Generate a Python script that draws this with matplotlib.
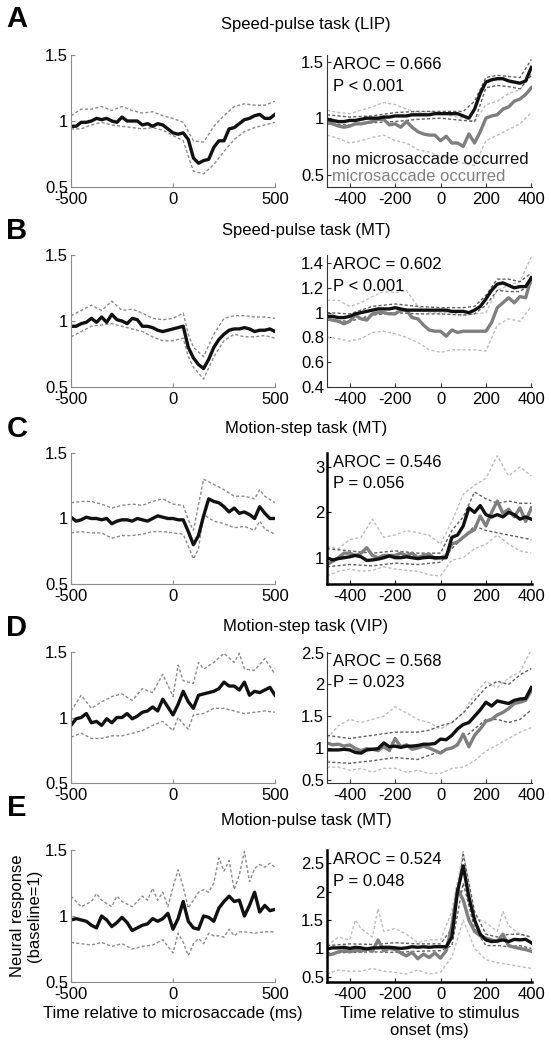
"""Microsaccade vs. stimulus-onset responses: 5 rows x 2 panels."""
import numpy as np
import matplotlib
matplotlib.use("Agg")
import matplotlib.pyplot as plt

plt.rcParams["font.family"] = ["Liberation Sans", "DejaVu Sans"]
plt.rcParams["axes.unicode_minus"] = False

# ---- time grids ----
LT = np.arange(-500, 501, 25)   # left panels (microsaccade-aligned)
RT = np.arange(-500, 401, 25)   # right panels (stimulus-aligned)

TITLES = ["Speed-pulse task (LIP)", "Speed-pulse task (MT)", "Motion-step task (MT)",
          "Motion-step task (VIP)", "Motion-pulse task (MT)"]
LETTERS = ["A", "B", "C", "D", "E"]
AROC = ["0.666", "0.602", "0.546", "0.568", "0.524"]
PVAL = ["P < 0.001", "P < 0.001", "P = 0.056", "P = 0.023", "P = 0.048"]

# ---- left panels: mean response around microsaccade ----
A_L = [0.96, 0.96, 0.99, 0.99, 1.00, 1.02, 1.01, 1.02, 1.00, 0.99,
       1.03, 1.00, 1.00, 1.00, 0.97, 0.98, 0.96, 0.98, 0.97, 0.94,
       0.91, 0.90, 0.91, 0.86, 0.72, 0.68, 0.70, 0.71, 0.80, 0.85,
       0.85, 0.94, 0.95, 0.98, 1.01, 1.02, 1.04, 1.05, 1.02, 1.02, 1.05]
B_L = [0.96, 0.96, 0.98, 0.99, 1.02, 0.99, 1.03, 0.99, 1.05, 1.01,
       1.00, 0.98, 1.02, 1.01, 0.96, 0.96, 0.95, 0.93, 0.92, 0.93,
       0.94, 0.95, 0.96, 0.80, 0.72, 0.67, 0.64, 0.71, 0.80, 0.86,
       0.90, 0.93, 0.94, 0.94, 0.95, 0.94, 0.92, 0.93, 0.93, 0.94, 0.92]
C_L = [1.01, 0.98, 0.99, 1.01, 1.00, 1.00, 0.99, 1.00, 0.96, 0.98,
       0.99, 0.99, 0.98, 1.00, 0.99, 0.98, 1.00, 1.02, 1.01, 1.00,
       1.00, 0.99, 0.99, 0.90, 0.80, 0.87, 1.02, 1.15, 1.13, 1.12,
       1.09, 1.05, 1.08, 1.04, 1.05, 1.03, 1.00, 1.09, 1.04, 1.00, 1.00]
D_L = [0.94, 0.99, 1.00, 1.03, 0.96, 0.97, 0.94, 0.99, 0.96, 1.00,
       1.00, 1.03, 0.99, 1.01, 1.04, 1.05, 1.08, 1.05, 1.14, 1.08,
       1.02, 1.10, 1.20, 1.12, 1.07, 1.17, 1.18, 1.19, 1.20, 1.22,
       1.27, 1.24, 1.24, 1.21, 1.27, 1.17, 1.20, 1.19, 1.21, 1.23, 1.17]
E_L = [0.97, 0.98, 0.97, 0.96, 0.93, 0.91, 1.00, 0.97, 0.92, 0.95,
       0.99, 0.95, 0.89, 0.91, 0.93, 0.94, 0.98, 0.96, 0.98, 1.02,
       0.90, 0.98, 1.11, 0.96, 0.91, 0.90, 1.00, 0.99, 0.96, 1.06,
       1.11, 1.15, 1.11, 1.12, 1.00, 1.08, 1.18, 1.03, 1.08, 1.04, 1.05]

# confidence bounds (time, value)
A_L_HI = [(-500, 1.04), (-450, 1.09), (-400, 1.09), (-350, 1.11), (-300, 1.08), (-250, 1.11),
          (-200, 1.08), (-150, 1.06), (-100, 1.07), (-50, 1.04), (0, 1.02), (50, 0.99),
          (100, 0.85), (150, 0.84), (200, 0.96), (250, 1.04), (300, 1.11), (350, 1.13),
          (400, 1.12), (450, 1.12), (500, 1.15)]
A_L_LO = [(-500, 0.94), (-450, 0.94), (-400, 0.97), (-350, 0.99), (-300, 0.97), (-250, 0.96),
          (-200, 0.95), (-150, 0.94), (-100, 0.95), (-50, 0.93), (0, 0.89), (50, 0.85),
          (100, 0.62), (150, 0.60), (200, 0.67), (250, 0.77), (300, 0.86), (350, 0.92),
          (400, 0.95), (450, 0.97), (500, 0.99)]
B_L_HI = [(-500, 1.04), (-450, 1.08), (-400, 1.12), (-350, 1.08), (-300, 1.15), (-250, 1.08),
          (-200, 1.09), (-150, 1.06), (-100, 1.02), (-50, 1.01), (0, 1.02), (50, 1.06),
          (75, 0.90), (100, 0.80), (150, 0.73), (200, 0.90), (250, 1.02), (300, 1.04),
          (350, 1.04), (400, 1.03), (450, 1.03), (500, 1.02)]
B_L_LO = [(-500, 0.88), (-450, 0.92), (-400, 0.96), (-350, 0.97), (-300, 0.98), (-250, 0.96),
          (-200, 0.94), (-150, 0.92), (-100, 0.88), (-50, 0.85), (0, 0.85), (50, 0.87),
          (75, 0.73), (100, 0.65), (150, 0.56), (200, 0.73), (250, 0.85), (300, 0.90),
          (350, 0.88), (400, 0.88), (450, 0.89), (500, 0.87)]
C_L_HI = [(-500, 1.12), (-450, 1.13), (-400, 1.13), (-350, 1.11), (-300, 1.08), (-250, 1.10),
          (-200, 1.11), (-150, 1.10), (-100, 1.13), (-50, 1.15), (0, 1.11), (50, 1.10),
          (75, 0.99), (100, 0.91), (150, 1.30), (200, 1.26), (250, 1.22), (300, 1.17),
          (350, 1.17), (400, 1.15), (425, 1.22), (450, 1.17), (500, 1.12)]
C_L_LO = [(-500, 0.89), (-450, 0.90), (-400, 0.89), (-350, 0.89), (-300, 0.85), (-250, 0.87),
          (-200, 0.87), (-150, 0.88), (-100, 0.90), (-50, 0.90), (0, 0.89), (50, 0.88),
          (75, 0.79), (100, 0.69), (125, 0.77), (150, 1.03), (200, 0.98), (250, 0.96),
          (300, 0.93), (350, 0.94), (400, 0.91), (425, 0.98), (450, 0.92), (500, 0.88)]
D_L_HI = [(-500, 1.05), (-450, 1.17), (-400, 1.07), (-350, 1.12), (-300, 1.16), (-250, 1.18),
          (-200, 1.13), (-150, 1.22), (-100, 1.19), (-50, 1.33), (0, 1.16), (25, 1.40),
          (50, 1.28), (100, 1.26), (125, 1.42), (150, 1.37), (200, 1.42), (250, 1.49),
          (300, 1.42), (325, 1.49), (350, 1.37), (400, 1.36), (450, 1.45), (500, 1.33)]
D_L_LO = [(-500, 0.85), (-450, 0.88), (-400, 0.84), (-350, 0.84), (-300, 0.86), (-250, 0.86),
          (-200, 0.88), (-150, 0.90), (-100, 0.94), (-50, 0.97), (0, 0.90), (25, 1.00),
          (50, 0.95), (75, 0.91), (100, 1.02), (150, 1.03), (200, 1.07), (250, 1.07),
          (300, 1.05), (350, 1.03), (400, 1.04), (450, 1.05), (500, 1.04)]
E_L_HI = [(-500, 1.15), (-450, 1.07), (-400, 1.11), (-375, 1.17), (-350, 1.12), (-300, 1.07),
          (-275, 1.15), (-250, 1.11), (-200, 1.07), (-150, 1.15), (-125, 1.12), (-100, 1.21),
          (-75, 1.12), (-50, 1.18), (-25, 1.07), (0, 1.22), (25, 1.35), (50, 1.22),
          (75, 1.06), (100, 1.12), (125, 1.18), (150, 1.20), (175, 1.18), (200, 1.25),
          (225, 1.44), (250, 1.34), (275, 1.42), (300, 1.20), (325, 1.31), (350, 1.49),
          (375, 1.26), (400, 1.36), (425, 1.39), (450, 1.37), (475, 1.40), (500, 1.37)]
E_L_LO = [(-500, 0.80), (-450, 0.79), (-400, 0.78), (-350, 0.80), (-300, 0.77), (-250, 0.79),
          (-200, 0.75), (-150, 0.77), (-100, 0.78), (-50, 0.82), (0, 0.72), (25, 0.87),
          (50, 0.80), (75, 0.70), (100, 0.79), (125, 0.83), (150, 0.79), (175, 0.87),
          (200, 0.85), (225, 0.85), (250, 0.84), (275, 0.90), (300, 0.85), (325, 0.88),
          (350, 0.88), (400, 0.87), (450, 0.88), (500, 0.88)]

# ---- right panels: no microsaccade (NM, black) vs microsaccade (MS, gray) ----
A_NM = [0.99, 0.98, 0.97, 0.97, 0.98, 0.98, 0.99, 1.00, 1.00, 1.00,
        1.01, 1.01, 1.02, 1.02, 1.02, 1.03, 1.03, 1.03, 1.03, 1.04,
        1.04, 1.04, 1.04, 1.04, 1.02, 1.00, 1.08, 1.22, 1.32, 1.34,
        1.35, 1.35, 1.33, 1.32, 1.31, 1.33, 1.45]
A_MS = [0.97, 0.95, 0.93, 0.92, 0.93, 0.95, 0.95, 0.96, 0.97, 0.99,
        0.99, 0.94, 0.95, 0.92, 0.97, 0.92, 0.88, 0.86, 0.85, 0.85,
        0.80, 0.84, 0.78, 0.78, 0.75, 0.86, 0.78, 0.88, 1.00, 1.02,
        1.03, 1.08, 1.10, 1.15, 1.17, 1.21, 1.27]
B_NM = [0.97, 0.97, 0.96, 0.96, 0.97, 0.99, 1.00, 1.01, 1.02, 1.03,
        1.03, 1.03, 1.04, 1.03, 1.02, 1.02, 1.02, 1.02, 1.02, 1.02,
        1.02, 1.02, 1.01, 1.01, 1.01, 1.00, 1.02, 1.05, 1.11, 1.18,
        1.23, 1.24, 1.22, 1.20, 1.21, 1.21, 1.28]
B_MS = [0.95, 0.94, 0.93, 0.91, 0.93, 0.98, 0.95, 0.94, 0.99, 1.00,
        1.00, 0.99, 0.99, 1.02, 1.02, 0.96, 0.95, 0.90, 0.86, 0.85,
        0.85, 0.81, 0.86, 0.84, 0.85, 0.85, 0.85, 0.85, 0.85, 0.92,
        1.04, 1.08, 1.12, 1.08, 1.13, 1.12, 1.28]
C_NM = [1.00, 0.95, 0.98, 1.00, 1.02, 1.05, 1.02, 0.94, 0.95, 0.97,
        1.00, 1.04, 1.00, 1.00, 1.02, 1.00, 0.98, 1.00, 1.01, 1.00,
        1.00, 1.00, 1.45, 1.50, 1.70, 2.10, 2.00, 2.15, 1.95, 1.90,
        1.95, 1.90, 2.00, 1.95, 1.85, 1.90, 1.85]
C_MS = [0.85, 0.92, 1.00, 1.10, 1.10, 1.05, 1.10, 1.22, 1.05, 1.00,
        1.05, 1.05, 1.05, 1.10, 1.05, 1.10, 1.00, 1.05, 1.08, 0.98,
        1.00, 1.05, 1.30, 1.35, 1.45, 1.55, 1.62, 1.92, 1.70, 2.00,
        2.25, 1.98, 2.07, 1.90, 2.10, 1.80, 2.10]
D_NM = [0.97, 0.97, 0.97, 0.98, 0.97, 0.93, 0.92, 0.97, 0.98, 0.99,
        1.08, 1.02, 1.03, 1.01, 1.03, 1.03, 1.04, 1.06, 1.06, 1.07,
        1.14, 1.13, 1.20, 1.30, 1.37, 1.40, 1.50, 1.60, 1.72, 1.66,
        1.74, 1.72, 1.70, 1.75, 1.77, 1.78, 1.95]
D_MS = [1.08, 1.05, 1.06, 1.03, 1.05, 0.99, 0.96, 0.99, 0.98, 0.96,
        1.02, 0.96, 1.15, 1.02, 1.05, 0.98, 1.00, 1.03, 1.00, 0.96,
        0.92, 0.98, 1.00, 1.05, 1.22, 1.02, 1.20, 1.30, 1.42, 1.45,
        1.52, 1.56, 1.62, 1.70, 1.72, 1.75, 1.90]
E_NM = [0.99, 1.01, 1.01, 1.02, 1.00, 1.02, 1.01, 0.99, 1.01, 1.01,
        1.02, 1.02, 1.01, 1.00, 1.01, 1.03, 1.02, 1.03, 1.02, 1.03,
        1.03, 1.03, 1.20, 2.00, 2.45, 1.90, 1.50, 1.25, 1.15, 1.12,
        1.13, 1.15, 1.12, 1.16, 1.15, 1.16, 1.10]
E_MS = [0.88, 0.90, 0.94, 0.96, 0.94, 0.97, 0.95, 1.00, 0.95, 1.15,
        0.96, 1.00, 0.98, 0.92, 0.87, 0.93, 0.82, 0.90, 0.84, 0.92,
        0.83, 0.96, 1.40, 2.05, 1.85, 1.50, 1.30, 1.22, 1.18, 1.15,
        1.12, 1.25, 1.05, 1.02, 1.00, 0.98, 0.95]

A_NM_HI = [(-500, 1.03), (-400, 1.01), (-300, 1.02), (-200, 1.05), (-100, 1.06), (0, 1.06),
           (100, 1.06), (150, 1.15), (200, 1.36), (250, 1.38), (300, 1.37), (350, 1.36), (400, 1.52)]
A_NM_LO = [(-500, 0.95), (-400, 0.94), (-300, 0.96), (-200, 0.97), (-100, 0.99), (0, 1.00),
           (100, 0.98), (150, 0.97), (200, 1.27), (250, 1.29), (300, 1.28), (350, 1.26), (400, 1.38)]
A_MS_HI = [(-500, 1.07), (-450, 1.05), (-400, 1.04), (-350, 1.07), (-300, 1.10), (-250, 1.14),
           (-200, 1.12), (-150, 1.08), (-100, 1.05), (-50, 1.06), (0, 1.05), (50, 1.02),
           (100, 1.00), (150, 0.97), (200, 1.12), (250, 1.15), (300, 1.22), (350, 1.25), (400, 1.40)]
A_MS_LO = [(-500, 0.85), (-450, 0.82), (-400, 0.78), (-350, 0.80), (-300, 0.83), (-250, 0.85),
           (-200, 0.80), (-150, 0.78), (-100, 0.72), (-50, 0.70), (0, 0.66), (50, 0.64),
           (100, 0.60), (150, 0.58), (200, 0.80), (250, 0.85), (300, 0.90), (350, 0.95), (400, 1.05)]
B_NM_HI = [(-500, 1.00), (-400, 0.99), (-300, 1.05), (-200, 1.07), (-100, 1.05), (0, 1.04),
           (100, 1.04), (150, 1.05), (200, 1.14), (250, 1.27), (300, 1.27), (350, 1.25), (400, 1.32)]
B_NM_LO = [(-500, 0.94), (-400, 0.93), (-300, 0.98), (-200, 1.00), (-100, 0.99), (0, 0.99),
           (100, 0.98), (150, 0.99), (200, 1.06), (250, 1.18), (300, 1.17), (350, 1.17), (400, 1.24)]
B_MS_HI = [(-500, 1.10), (-450, 1.10), (-400, 1.05), (-350, 1.08), (-300, 1.13), (-250, 1.17),
           (-200, 1.16), (-150, 1.18), (-100, 1.05), (-50, 1.00), (0, 1.00), (50, 1.00),
           (100, 0.98), (150, 0.99), (200, 1.00), (250, 1.18), (300, 1.22), (350, 1.25), (400, 1.45)]
B_MS_LO = [(-500, 0.80), (-450, 0.79), (-400, 0.77), (-350, 0.79), (-300, 0.84), (-250, 0.85),
           (-200, 0.83), (-150, 0.80), (-100, 0.76), (-50, 0.70), (0, 0.68), (50, 0.70),
           (100, 0.70), (150, 0.70), (200, 0.69), (250, 0.90), (300, 0.95), (350, 0.93), (400, 1.05)]
C_NM_HI = [(-500, 1.20), (-400, 1.15), (-300, 1.10), (-200, 1.15), (-100, 1.10), (0, 1.10),
           (50, 1.60), (100, 1.90), (150, 2.45), (200, 2.30), (250, 2.20), (300, 2.25),
           (350, 2.20), (400, 2.20)]
C_NM_LO = [(-500, 0.80), (-400, 0.85), (-300, 0.82), (-200, 0.88), (-100, 0.85), (0, 0.90),
           (50, 1.20), (100, 1.45), (150, 1.70), (200, 1.60), (250, 1.55), (300, 1.50),
           (350, 1.45), (400, 1.40)]
C_MS_HI = [(-500, 1.25), (-450, 1.20), (-400, 1.40), (-350, 1.45), (-300, 1.85), (-250, 1.45),
           (-200, 1.50), (-150, 1.60), (-100, 1.55), (-50, 1.50), (0, 1.30), (50, 1.80),
           (100, 2.40), (150, 2.60), (200, 2.75), (250, 3.25), (300, 2.80), (350, 3.00), (400, 2.80)]
C_MS_LO = [(-500, 0.60), (-450, 0.70), (-400, 0.75), (-350, 0.70), (-300, 0.72), (-250, 0.80),
           (-200, 0.75), (-150, 0.72), (-100, 0.70), (-50, 0.62), (0, 0.60), (50, 0.95),
           (100, 1.00), (150, 1.20), (200, 1.30), (250, 1.50), (300, 1.30), (350, 1.15), (400, 1.10)]
D_NM_HI = [(-500, 1.20), (-400, 1.15), (-300, 1.20), (-200, 1.25), (-100, 1.25), (-50, 1.28),
           (0, 1.35), (50, 1.40), (100, 1.55), (150, 1.75), (200, 1.95), (250, 2.05),
           (300, 2.00), (350, 2.15), (400, 2.25)]
D_NM_LO = [(-500, 0.78), (-400, 0.76), (-300, 0.80), (-200, 0.85), (-100, 0.82), (0, 0.95),
           (50, 1.00), (100, 1.15), (150, 1.30), (200, 1.45), (250, 1.45), (300, 1.40),
           (350, 1.45), (400, 1.60)]
D_MS_HI = [(-500, 1.15), (-450, 1.35), (-400, 1.45), (-350, 1.40), (-300, 1.45), (-250, 1.50),
           (-200, 1.65), (-150, 1.55), (-100, 1.45), (-50, 1.40), (0, 1.30), (50, 1.40),
           (100, 1.55), (150, 1.85), (200, 2.05), (250, 1.95), (300, 2.10), (350, 2.20), (400, 2.55)]
D_MS_LO = [(-500, 0.70), (-450, 0.70), (-400, 0.65), (-350, 0.68), (-300, 0.62), (-250, 0.68),
           (-200, 0.68), (-150, 0.62), (-100, 0.65), (-50, 0.60), (0, 0.60), (50, 0.68),
           (100, 0.70), (150, 0.80), (200, 0.95), (250, 1.05), (300, 1.15), (350, 1.25), (400, 1.32)]
E_NM_HI = [(-500, 1.05), (-400, 1.08), (-300, 1.07), (-200, 1.10), (-100, 1.08), (0, 1.08),
           (50, 1.35), (100, 2.65), (150, 1.65), (200, 1.25), (250, 1.20), (300, 1.25),
           (350, 1.25), (400, 1.20)]
E_NM_LO = [(-500, 0.92), (-400, 0.93), (-300, 0.94), (-200, 0.93), (-100, 0.95), (0, 0.96),
           (50, 1.05), (100, 2.15), (150, 1.35), (200, 1.05), (250, 1.05), (300, 1.03),
           (350, 1.05), (400, 1.00)]
E_MS_HI = [(-500, 1.05), (-450, 1.20), (-400, 1.15), (-375, 1.50), (-350, 1.35), (-300, 1.20),
           (-275, 1.70), (-250, 1.30), (-200, 1.35), (-150, 1.25), (-100, 1.10), (-50, 1.15),
           (0, 1.15), (50, 1.65), (100, 2.70), (150, 1.55), (200, 1.45), (250, 1.30),
           (275, 1.65), (300, 1.40), (350, 1.25), (400, 1.20)]
E_MS_LO = [(-500, 0.55), (-450, 0.62), (-400, 0.60), (-350, 0.60), (-300, 0.65), (-250, 0.60),
           (-200, 0.58), (-150, 0.55), (-100, 0.62), (-50, 0.55), (0, 0.58), (50, 0.85),
           (100, 1.50), (150, 1.00), (200, 0.80), (250, 0.75), (300, 0.72), (350, 0.68), (400, 0.65)]

LEFT = [(A_L, A_L_HI, A_L_LO), (B_L, B_L_HI, B_L_LO), (C_L, C_L_HI, C_L_LO),
        (D_L, D_L_HI, D_L_LO), (E_L, E_L_HI, E_L_LO)]
RIGHT = [(A_NM, A_MS, A_NM_HI, A_NM_LO, A_MS_HI, A_MS_LO),
         (B_NM, B_MS, B_NM_HI, B_NM_LO, B_MS_HI, B_MS_LO),
         (C_NM, C_MS, C_NM_HI, C_NM_LO, C_MS_HI, C_MS_LO),
         (D_NM, D_MS, D_NM_HI, D_NM_LO, D_MS_HI, D_MS_LO),
         (E_NM, E_MS, E_NM_HI, E_NM_LO, E_MS_HI, E_MS_LO)]
R_YLIM = [(0.39, 1.56), (0.4, 1.465), (0.42, 3.31), (0.45, 2.51), (0.41, 2.73)]
R_YTICKS = [[0.5, 1, 1.5], [0.4, 0.6, 0.8, 1, 1.2, 1.4], [1, 2, 3],
            [0.5, 1, 1.5, 2, 2.5], [0.5, 1, 1.5, 2, 2.5]]
R_HEAVY = [False, False, True, False, True]

ROW_PX = [(55, 187), (255, 387), (453, 584), (652, 783), (850, 982)]
TITLE_Y = [25, 230, 429, 626, 820]
LETTER_Y = [19, 231, 429, 628, 808]
FW, FH = 551, 1050

BLACK = "#111111"
GRAY = "#7f7f7f"
DASH_L = "#8a8a8a"
DASH_D = "#5e5e5e"
DASH_G = "#bdbdbd"
DASHES = (2.2, 1.6)
FS = 12


def _xy(pairs):
    a = np.array(pairs, dtype=float)
    return a[:, 0], a[:, 1]


def _style(ax, spine_col, spine_lw):
    for s in ("top", "right"):
        ax.spines[s].set_visible(False)
    for s in ("left", "bottom"):
        ax.spines[s].set_color(spine_col)
        ax.spines[s].set_linewidth(spine_lw)
    ax.tick_params(direction="in", length=3, width=0.8, color=spine_col,
                   labelsize=FS, pad=2)
    ax.tick_params(axis="x", pad=3.5)
    ax.yaxis.set_major_formatter(plt.FuncFormatter(lambda v, p: f"{v:g}"))
    ax.xaxis.set_major_formatter(plt.FuncFormatter(lambda v, p: f"{v:g}"))


fig = plt.figure(figsize=(FW / 100, FH / 100), dpi=100)

for i in range(5):
    top, bot = ROW_PX[i]
    y0, h = 1 - bot / FH, (bot - top) / FH

    # left panel
    axl = fig.add_axes([71 / FW, y0, 204 / FW, h])
    mean, hi, lo = LEFT[i]
    for pairs in (hi, lo):
        t, v = _xy(pairs)
        axl.plot(t, v, color=DASH_L, lw=1.0, dashes=DASHES)
    axl.plot(LT, mean, color=BLACK, lw=2.4, solid_joinstyle="round")
    axl.set_xlim(-500, 500)
    axl.set_ylim(0.5, 1.5)
    axl.set_xticks([-500, 0, 500])
    axl.set_yticks([0.5, 1, 1.5])
    _style(axl, "#8c8c8c", 0.8)

    # right panel
    axr = fig.add_axes([327 / FW, y0, 205 / FW, h])
    nm, ms, nm_hi, nm_lo, ms_hi, ms_lo = RIGHT[i]
    for pairs in (ms_hi, ms_lo):
        t, v = _xy(pairs)
        axr.plot(t, v, color=DASH_G, lw=1.0, dashes=DASHES)
    for pairs in (nm_hi, nm_lo):
        t, v = _xy(pairs)
        axr.plot(t, v, color=DASH_D, lw=1.0, dashes=DASHES)
    axr.plot(RT, ms, color=GRAY, lw=2.4, solid_joinstyle="round")
    axr.plot(RT, nm, color=BLACK, lw=2.4, solid_joinstyle="round")
    axr.set_xlim(-500, 403)
    axr.set_ylim(*R_YLIM[i])
    axr.set_xticks([-400, -200, 0, 200, 400])
    axr.set_yticks(R_YTICKS[i])
    if R_HEAVY[i]:
        _style(axr, "#000000", 1.8)
    else:
        _style(axr, "#333333", 0.8)
    axr.text(0.03, 0.925, f"AROC = {AROC[i]}", transform=axr.transAxes,
             fontsize=FS, va="center", ha="left")
    axr.text(0.03, 0.765, PVAL[i], transform=axr.transAxes,
             fontsize=FS, va="center", ha="left")

    if i == 0:
        axr.text(0.025, 0.205, "no microsaccade occurred", transform=axr.transAxes,
                 fontsize=FS, va="center", ha="left", color=BLACK)
        axr.text(0.025, 0.083, "microsaccade occurred", transform=axr.transAxes,
                 fontsize=FS, va="center", ha="left", color=GRAY)
    if i == 4:
        axl.set_xlabel("Time relative to microsaccade (ms)", fontsize=FS, labelpad=3)
        axl.set_ylabel("Neural response\n(baseline=1)", fontsize=FS, labelpad=2)
        axr.set_xlabel("Time relative to stimulus\nonset (ms)", fontsize=FS, labelpad=3)

    fig.text(306 / FW, 1 - TITLE_Y[i] / FH, TITLES[i], ha="center", va="center",
             fontsize=FS)
    fig.text(17 / FW, 1 - LETTER_Y[i] / FH, LETTERS[i], ha="center", va="center",
             fontsize=21, fontweight="bold")

fig.savefig("out.png", dpi=100)
